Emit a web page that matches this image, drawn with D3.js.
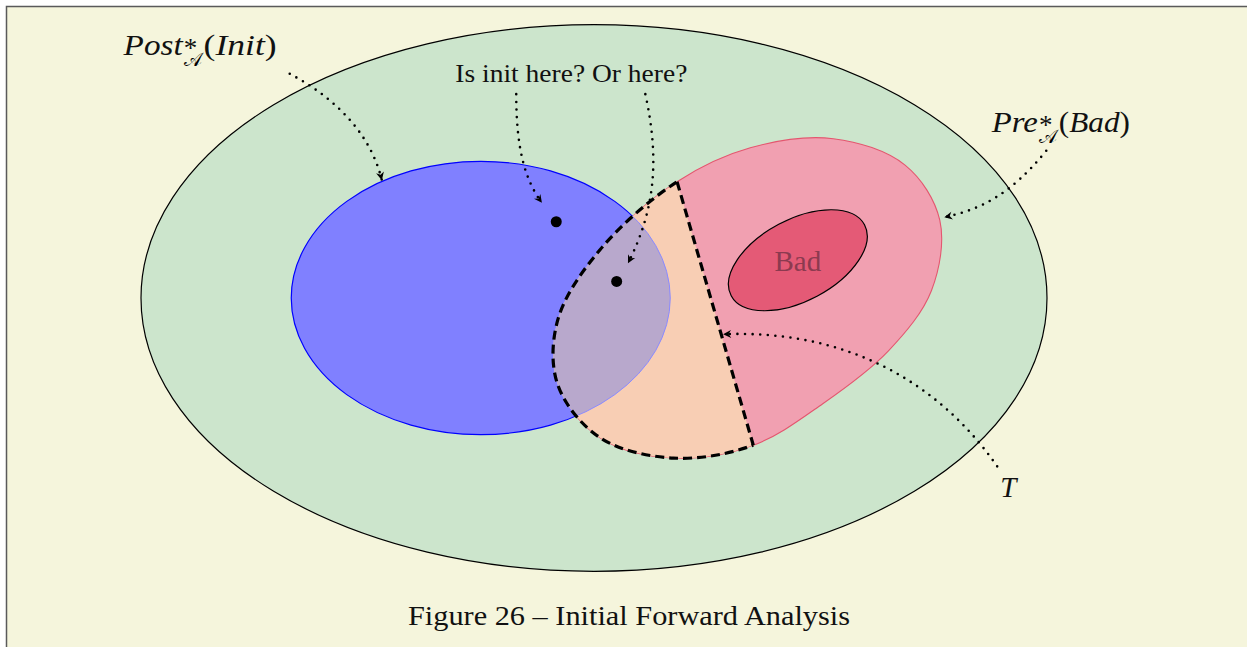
<!DOCTYPE html>
<html>
<head>
<meta charset="utf-8">
<script src="https://cdn.jsdelivr.net/npm/d3@7"></script>
<style>
  body { margin: 0; background: #fff; }
  svg { display: block; }
</style>
</head>
<body>
<div id="fig"></div>
<script>
// Diagram units (1 unit ~ 1 "cm" of the original figure), origin at the centre of the big ellipse
const outerRegion = { cx: 0, cy: 0, rx: 6.0, ry: 3.62 };
const initRegion = { cx: -1.5, cy: 0, rx: 2.51, ry: 1.81 };
const badRegion = { cx: 2.70, cy: 0.50, rx: 1.0, ry: 0.54, rot: 28 };

// Outline of Pre*(Bad); points 0 and 8 are the ends of the cut T
const preShape = [
  [1.10, 1.54], [2.07, 1.99], [3.17, 2.11], [4.12, 1.76], [4.58, 1.03],
  [4.47, 0.10], [3.90, -0.70], [3.03, -1.40], [2.11, -1.95], [1.05, -2.12],
  [0.08, -1.85], [-0.48, -1.15], [-0.48, -0.29], [0.08, 0.64]
];
const cutLine = [preShape[0], preShape[8]];

const initPoints = [[-0.50, 1.01], [0.30, 0.22]];

// Dotted arrows: cubic bezier control points
const arrows = [
  [[-4.03, 2.97], [-3.50, 2.69], [-2.97, 2.23], [-2.81, 1.56]],
  [[-1.03, 2.70], [-1.03, 1.96], [-0.91, 1.56], [-0.69, 1.26]],
  [[0.68, 2.70], [0.87, 1.83], [0.81, 1.17], [0.45, 0.46]],
  [[5.99, 1.95], [5.51, 1.36], [5.11, 1.17], [4.64, 1.07]],
  [[5.34, -2.23], [4.45, -0.95], [3.13, -0.42], [1.71, -0.48]]
];

const width = 1247, height = 647;
const unit = 75.5;
const x = d3.scaleLinear().domain([0, 1]).range([594, 594 + unit]);
const y = d3.scaleLinear().domain([0, 1]).range([298, 298 - unit]);
const len = v => x(v) - x(0);

const svg = d3.select("#fig").append("svg")
  .attr("width", width)
  .attr("height", height);

const defs = svg.append("defs");

// fond et cadre
svg.append("rect").attr("x", 6).attr("y", 6)
  .attr("width", width - 6).attr("height", height - 6)
  .attr("fill", "#f5f5dc");
svg.append("path")
  .attr("d", `M6.5,${height} L6.5,6.5 L${width},6.5`)
  .attr("fill", "none").attr("stroke", "#5a5a5a").attr("stroke-width", 1.5);

const ell = (g, e) => g.append("ellipse")
  .attr("cx", x(e.cx)).attr("cy", y(e.cy))
  .attr("rx", len(e.rx)).attr("ry", len(e.ry));

const preLine = d3.line()
  .x(d => x(d[0])).y(d => y(d[1]))
  .curve(d3.curveCatmullRomClosed.alpha(0.5));

// clip: left side of the cut
const p1 = cutLine[0], p2 = cutLine[1];
const dx = p2[0] - p1[0], dy = p2[1] - p1[1];
const a = [p1[0] - 3 * dx, p1[1] - 3 * dy], b = [p2[0] + 3 * dx, p2[1] + 3 * dy];
defs.append("clipPath").attr("id", "leftCut")
  .append("path")
  .attr("d", d3.line().x(d => x(d[0])).y(d => y(d[1]))([a, b, [-20, b[1]], [-20, a[1]]]) + "Z");
ell(defs.append("clipPath").attr("id", "initClip"), initRegion);
defs.append("clipPath").attr("id", "preClip")
  .append("path").attr("d", preLine(preShape));

defs.append("marker")
  .attr("id", "head")
  .attr("markerUnits", "userSpaceOnUse")
  .attr("viewBox", "-10 -5 12 10")
  .attr("refX", 0).attr("refY", 0)
  .attr("markerWidth", 12).attr("markerHeight", 10)
  .attr("orient", "auto")
  .append("path")
  .attr("d", "M0,0 L-8,-4 L-5.5,0 L-8,4 Z")
  .attr("fill", "#000");

// Régions
ell(svg, outerRegion).attr("fill", "#cce5cc").attr("stroke", "#000").attr("stroke-width", 1.2);

svg.append("path").attr("d", preLine(preShape))
  .attr("fill", "#f1a0b1").attr("stroke", "#e4566f").attr("stroke-width", 1.1);

ell(svg, initRegion).attr("fill", "#8080ff").attr("stroke", "#0000ff").attr("stroke-width", 1.2);

const tGroup = svg.append("g").attr("clip-path", "url(#leftCut)");
tGroup.append("path").attr("d", preLine(preShape)).attr("fill", "#f8ceb4");
tGroup.append("path").attr("d", preLine(preShape))
  .attr("fill", "#b8a8cc").attr("clip-path", "url(#initClip)");
tGroup.append("g").attr("clip-path", "url(#preClip)")
  .call(g => ell(g, initRegion).attr("fill", "none").attr("stroke", "#8a8aff").attr("stroke-width", 1));

svg.append("ellipse")
  .attr("cx", 0).attr("cy", 0)
  .attr("rx", len(badRegion.rx)).attr("ry", len(badRegion.ry))
  .attr("transform", `translate(${x(badRegion.cx)},${y(badRegion.cy)}) rotate(${-badRegion.rot})`)
  .attr("fill", "#e45a76").attr("stroke", "#000").attr("stroke-width", 1.2);

svg.append("text")
  .attr("x", x(badRegion.cx)).attr("y", y(badRegion.cy) + 11)
  .attr("text-anchor", "middle")
  .attr("font-family", "Liberation Serif, serif")
  .attr("font-size", 29)
  .attr("fill", "#8c3a50")
  .text("Bad");

// T en pointillés épais
tGroup.append("path").attr("d", preLine(preShape))
  .attr("fill", "none").attr("stroke", "#000")
  .attr("stroke-width", 3.2).attr("stroke-dasharray", "9 5");
svg.append("line")
  .attr("x1", x(p1[0])).attr("y1", y(p1[1]))
  .attr("x2", x(p2[0])).attr("y2", y(p2[1]))
  .attr("stroke", "#000").attr("stroke-width", 3.2).attr("stroke-dasharray", "9 5");

// points
svg.selectAll("circle.init")
  .data(initPoints)
  .enter()
  .append("circle")
  .attr("class", "init")
  .attr("cx", d => x(d[0])).attr("cy", d => y(d[1]))
  .attr("r", 5.5).attr("fill", "#000");

// flèches
svg.selectAll("path.arrow")
  .data(arrows)
  .enter()
  .append("path")
  .attr("class", "arrow")
  .attr("d", d => {
    const p = d3.path();
    p.moveTo(x(d[0][0]), y(d[0][1]));
    p.bezierCurveTo(x(d[1][0]), y(d[1][1]), x(d[2][0]), y(d[2][1]), x(d[3][0]), y(d[3][1]));
    return p.toString();
  })
  .attr("fill", "none").attr("stroke", "#000")
  .attr("stroke-width", 2.6)
  .attr("stroke-linecap", "round")
  .attr("stroke-dasharray", "0 7.6")
  .attr("marker-end", "url(#head)");

// étiquettes (one text element each, parts placed with tspans)
function mathLabel(ux, uy, base, baseW, arg, argW) {
  const x0 = x(ux), y0 = y(uy);
  const t = svg.append("text")
    .attr("font-family", "Liberation Serif, serif")
    .attr("font-size", 29)
    .attr("fill", "#111");
  t.append("tspan").attr("x", x0).attr("y", y0)
    .attr("font-style", "italic")
    .attr("textLength", baseW).attr("lengthAdjust", "spacingAndGlyphs")
    .text(base);
  t.append("tspan").attr("x", x0 + baseW + 1).attr("y", y0 + 2)
    .attr("font-size", 27).text("*");
  t.append("tspan").attr("x", x0 + baseW + 1).attr("y", y0 + 11)
    .attr("font-size", 19).attr("font-family", "DejaVu Serif, DejaVu Sans, serif")
    .attr("fill", "#000").text("𝒜");
  t.append("tspan").attr("x", x0 + baseW + 21).attr("y", y0)
    .attr("textLength", argW).attr("lengthAdjust", "spacingAndGlyphs")
    .text("(")
    .append("tspan").attr("font-style", "italic").text(arg)
    .select(function() { return this.parentNode; })
    .append("tspan").text(")");
}

mathLabel(-6.23, 3.22, "Post", 59, "Init", 73);
mathLabel(5.27, 2.20, "Pre", 46, "Bad", 71);

svg.append("text")
  .attr("x", x(5.38)).attr("y", y(-2.64))
  .attr("font-family", "Liberation Serif, serif")
  .attr("font-size", 29).attr("font-style", "italic")
  .attr("fill", "#111")
  .text("T");

svg.append("text")
  .attr("x", x(-0.30)).attr("y", y(2.86))
  .attr("text-anchor", "middle")
  .attr("font-family", "Liberation Serif, serif")
  .attr("font-size", 26)
  .attr("textLength", 232).attr("lengthAdjust", "spacingAndGlyphs")
  .attr("fill", "#111")
  .text("Is init here? Or here?");

svg.append("text")
  .attr("x", 629).attr("y", 625)
  .attr("text-anchor", "middle")
  .attr("font-family", "Liberation Serif, serif")
  .attr("font-size", 28)
  .attr("textLength", 442).attr("lengthAdjust", "spacingAndGlyphs")
  .attr("fill", "#111")
  .text("Figure 26 – Initial Forward Analysis");
</script>
</body>
</html>
